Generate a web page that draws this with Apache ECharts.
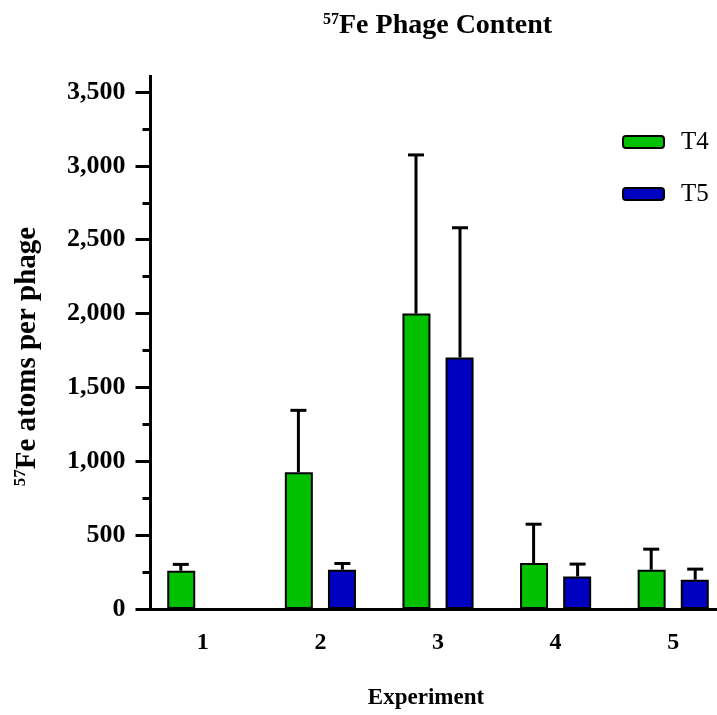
<!DOCTYPE html>
<html>
<head>
<meta charset="utf-8">
<script src="https://cdn.jsdelivr.net/npm/echarts@6/dist/echarts.min.js"></script>
<style>
html, body { margin: 0; padding: 0; background: #fff; overflow: hidden; }
/* the plot's x axis runs off the right edge in the original, so the canvas is wider than the window */
#chart { width: 745px; height: 715px; }
</style>
</head>
<body>
<div id="chart"></div>
<script>
// data
var experiments = ['1', '2', '3', '4', '5'];
var t4Mean = [259, 926, 2000, 311, 266];
var t4Sd = [43, 419, 1074, 263, 139];
var t5Mean = [null, 266, 1703, 220, 198];
var t5Sd = [null, 42, 878, 84, 72];

var serif = "'Liberation Serif', 'Times New Roman', serif";

function errorData(means, sds) {
    var out = [];
    for (var i = 0; i < means.length; i++) {
        if (means[i] == null) continue;
        out.push([i, means[i], means[i] + sds[i]]);
    }
    return out;
}

// upper-only error bar with a cap, shifted onto its bar
function errorBar(shift) {
    return function (params, api) {
        var base = api.coord([api.value(0), api.value(1)]);
        var top = api.coord([api.value(0), api.value(2)]);
        var x = base[0] + shift;
        var st = { stroke: '#000', lineWidth: 3 };
        return {
            type: 'group',
            children: [
                { type: 'line', shape: { x1: x, y1: base[1], x2: x, y2: top[1] }, style: st },
                { type: 'line', shape: { x1: x - 8, y1: top[1], x2: x + 8, y2: top[1] }, style: st }
            ]
        };
    };
}

var dom = document.getElementById('chart');
var myChart = echarts.init(dom);

function supRich(size, lh) {
    return {
        sup: { fontSize: size, fontWeight: 'bold', fontFamily: serif, color: '#000', verticalAlign: 'top', lineHeight: lh }
    };
}

var option = {
    animation: false,
    backgroundColor: '#fff',
    title: {
        text: '{sup|57}Fe Phage Content',
        left: 318,
        top: 7,
        textStyle: {
            fontSize: 28,
            fontWeight: 'bold',
            fontFamily: serif,
            color: '#000',
            lineHeight: 28,
            rich: supRich(16, 28)
        }
    },
    legend: {
        orient: 'vertical',
        left: 617,
        top: 123,
        itemWidth: 41,
        itemHeight: 12,
        itemGap: 24,
        data: ['T4', 'T5'],
        textStyle: {
            fontSize: 25,
            fontFamily: serif,
            color: '#000',
            lineHeight: 28,
            padding: [0, 0, 0, 12]
        }
    },
    grid: {
        left: 144,
        width: 588,
        top: 92,
        bottom: 106
    },
    xAxis: {
        type: 'category',
        data: experiments,
        name: 'Experiment',
        nameLocation: 'middle',
        nameGap: 78,
        nameTextStyle: {
            fontSize: 23,
            fontWeight: 'bold',
            fontFamily: serif,
            color: '#000',
            padding: [0, 24, 0, 0]
        },
        axisLine: { lineStyle: { color: '#000', width: 3 } },
        axisTick: { alignWithLabel: true, length: 13, lineStyle: { color: '#000', width: 3 } },
        axisLabel: {
            margin: 22,
            fontSize: 24,
            fontWeight: 'bold',
            fontFamily: serif,
            color: '#000'
        }
    },
    yAxis: {
        type: 'value',
        min: 0,
        max: 3500,
        interval: 500,
        offset: -6.5,
        name: '{sup|57}Fe atoms per phage',
        nameLocation: 'middle',
        nameGap: 108,
        nameTextStyle: {
            fontSize: 29,
            fontWeight: 'bold',
            fontFamily: serif,
            color: '#000',
            lineHeight: 30,
            padding: [0, 12, 0, 0],
            rich: supRich(17, 30)
        },
        axisLine: {
            show: true,
            lineStyle: { color: '#000', width: 3 },
            symbol: ['none', 'rect'],
            symbolSize: [3, 34]
        },
        axisTick: { show: true, length: 15, lineStyle: { color: '#000', width: 3 } },
        minorTick: { show: true, splitNumber: 2, length: 8, lineStyle: { color: '#000', width: 3 } },
        splitLine: { show: false },
        axisLabel: {
            margin: 25,
            fontSize: 26,
            fontWeight: 'bold',
            fontFamily: serif,
            color: '#000',
            formatter: function (v) { return v.toLocaleString('en-US'); }
        }
    },
    series: [
        {
            name: 'T4',
            type: 'bar',
            data: t4Mean,
            barWidth: 28,
            barGap: '54%',
            itemStyle: { color: '#00c000', borderColor: '#000', borderWidth: 2 }
        },
        {
            name: 'T5',
            type: 'bar',
            data: t5Mean,
            barWidth: 28,
            itemStyle: { color: '#0000c0', borderColor: '#000', borderWidth: 2 }
        },
        {
            name: 'T4 SD',
            type: 'custom',
            renderItem: errorBar(-22),
            data: errorData(t4Mean, t4Sd),
            z: 3
        },
        {
            name: 'T5 SD',
            type: 'custom',
            renderItem: errorBar(22),
            data: errorData(t5Mean, t5Sd),
            z: 3
        }
    ]
};

myChart.setOption(option);
</script>
</body>
</html>
